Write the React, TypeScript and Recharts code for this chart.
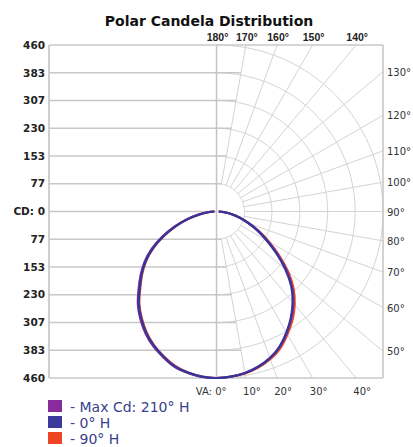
import React from "react";
import { ScatterChart, Scatter, XAxis, YAxis } from "recharts";

// Vertical angles (0° = nadir, straight down)
const verticalAngles = [0, 5, 10, 15, 20, 25, 30, 35, 40, 45, 50, 55, 60, 65, 70, 75, 80, 85, 90];

// Candela values per vertical angle, right half-plane and opposite (left) half-plane
const maxCd210Right = [460, 458, 453, 444, 431, 413, 388, 360, 330, 295, 252, 206, 164, 128, 95, 67, 43, 21, 6];
const maxCd210Left = [460, 459, 453, 445, 429, 412, 391, 366, 338, 305, 274, 243, 207, 166, 125, 86, 52, 24, 6];
const h0Right = [460, 458, 453, 444, 431, 412, 386, 358, 327, 292, 248, 202, 160, 125, 93, 65, 42, 20, 6];
const h0Left = [460, 458, 452, 443, 427, 409, 388, 362, 334, 300, 270, 239, 203, 162, 122, 84, 50, 23, 6];
const h90Right = [460, 458, 454, 446, 434, 417, 392, 366, 336, 301, 258, 211, 168, 130, 96, 67, 43, 21, 6];
const h90Left = [460, 458, 452, 442, 426, 408, 386, 360, 332, 298, 268, 237, 201, 160, 120, 83, 49, 22, 6];

// Axis / grid values
const cdTicks = [0, 77, 153, 230, 307, 383, 460];
const ringCd = [77, 153, 230, 307, 383, 460];
const rayAngles = [0, 10, 20, 30, 40, 50, 60, 70, 80, 90, 100, 110, 120, 130, 140, 150, 160, 170, 180];

const legendLabels = ["- Max Cd: 210° H", "- 0° H", "- 90° H"];
const seriesColors = ["#7b2d9b", "#35359a", "#e8472a"];
const swatchColors = ["#8a2b9c", "#3a3a9c", "#ee4422"];

const CD_LIMIT = 460;
const X_MIN = -463;
const rad = (d: number) => (d * Math.PI) / 180;
const clampY = (v: number) => Math.max(-CD_LIMIT, Math.min(CD_LIMIT, v));
const clampX = (v: number) => Math.max(X_MIN, Math.min(CD_LIMIT, v));

function buildCurve(right: number[], left: number[]) {
  const pts: { x: number; y: number }[] = [];
  for (let i = verticalAngles.length - 1; i >= 0; i--) {
    const a = rad(verticalAngles[i]);
    const r = left[i];
    pts.push({ x: -r * Math.sin(a), y: -r * Math.cos(a) });
  }
  for (let i = 1; i < verticalAngles.length; i++) {
    const a = rad(verticalAngles[i]);
    const r = right[i];
    pts.push({ x: r * Math.sin(a), y: -r * Math.cos(a) });
  }
  return pts;
}

const curves = [
  { key: "h90", data: buildCurve(h90Right, h90Left), color: seriesColors[2] },
  { key: "max", data: buildCurve(maxCd210Right, maxCd210Left), color: seriesColors[0] },
  { key: "h0", data: buildCurve(h0Right, h0Left), color: seriesColors[1] },
];

// Horizontal grid lines on the left (rectangular part)
const tan10 = Math.tan(rad(10));
const hLines: { x: number; y: number }[][] = [];
cdTicks.forEach((t) => {
  const signs = t === 0 ? [1] : [1, -1];
  signs.forEach((s) => {
    const xEnd = t === CD_LIMIT ? CD_LIMIT : t * tan10;
    hLines.push([
      { x: X_MIN, y: s * t },
      { x: xEnd, y: s * t },
    ]);
  });
});

const frameLines = [
  [
    { x: 0, y: -CD_LIMIT },
    { x: 0, y: CD_LIMIT },
  ],
  [
    { x: CD_LIMIT, y: -CD_LIMIT },
    { x: CD_LIMIT, y: CD_LIMIT },
  ],
];

function rayEnd(deg: number) {
  const a = rad(deg);
  const sx = Math.sin(a);
  const cy = Math.cos(a);
  const tx = sx > 1e-9 ? CD_LIMIT / sx : Infinity;
  const ty = Math.abs(cy) > 1e-9 ? CD_LIMIT / Math.abs(cy) : Infinity;
  const t = Math.min(tx, ty);
  return { x: clampX(t * sx), y: clampY(-t * cy) };
}

const rays = rayAngles
  .filter((d) => d > 0 && d < 180)
  .map((d) => {
    const a = rad(d);
    return [{ x: ringCd[0] * Math.sin(a), y: -ringCd[0] * Math.cos(a) }, rayEnd(d)];
  });

const rings = ringCd.map((r) => {
  const pts: { x: number; y: number }[] = [];
  for (let d = 0; d <= 180; d += 2) {
    const a = rad(d);
    pts.push({ x: clampX(r * Math.sin(a)), y: clampY(-r * Math.cos(a)) });
  }
  return pts;
});

const angleLabels = rayAngles.map((d) => {
  const e = rayEnd(d);
  let side = "right";
  if (Math.abs(e.y - CD_LIMIT) < 1e-6) side = "top";
  else if (Math.abs(e.y + CD_LIMIT) < 1e-6) side = "bottom";
  if (d === 90) side = "right";
  return { x: e.x, y: e.y, label: `${d}°`, side, deg: d };
});

const NoShape = () => null;

const AngleLabel = (props: any) => {
  const { cx, cy, payload } = props;
  if (cx == null || cy == null || !payload) return null;
  const base = { fontFamily: "DejaVu Sans", fontSize: 10, fill: "#333" } as any;
  if (payload.side === "top") {
    return (
      <text x={cx + 1} y={cy - 4} textAnchor="middle" style={{ ...base, fontFamily: "Liberation Sans", fontWeight: "bold", fontSize: 10.5, fill: "#222" }}>
        {payload.label}
      </text>
    );
  }
  if (payload.side === "bottom") {
    if (payload.deg === 0) {
      return (
        <text x={cx + 10} y={cy + 17} textAnchor="end" style={base}>
          {"VA: " + payload.label}
        </text>
      );
    }
    return (
      <text x={cx + 6} y={cy + 17} textAnchor="middle" style={base}>
        {payload.label}
      </text>
    );
  }
  return (
    <text x={cx + 4} y={cy + 4} textAnchor="start" style={base}>
      {payload.label}
    </text>
  );
};

const yTicks = [...cdTicks.slice(1).reverse().map((t) => -t), ...cdTicks];

export default function App() {
  return (
    <div style={{ position: "absolute", left: 0, top: 0, width: 413, height: 447, background: "#fff", overflow: "hidden" }}>
      <div
        style={{
          position: "absolute",
          left: 209,
          top: 14,
          transform: "translateX(-50%)",
          whiteSpace: "nowrap",
          fontFamily: "DejaVu Sans",
          fontWeight: "bold",
          fontSize: 14,
          lineHeight: "14px",
          color: "#111",
        }}
      >
        Polar Candela Distribution
      </div>
      <ScatterChart width={413} height={447} margin={{ top: 45, right: 30, bottom: 69, left: 0 }}>
        <XAxis type="number" dataKey="x" domain={[X_MIN, CD_LIMIT]} hide />
        <YAxis
          type="number"
          dataKey="y"
          domain={[-CD_LIMIT, CD_LIMIT]}
          ticks={yTicks}
          interval={0}
          width={49}
          tickLine={false}
          tickSize={2}
          tickMargin={2}
          axisLine={{ stroke: "#bfbfbf", strokeWidth: 1.5 }}
          tickFormatter={(v: number) => (v === 0 ? "CD: 0" : String(Math.abs(v)))}
          tick={{ fontFamily: "DejaVu Sans", fontSize: 10.5, fontWeight: "bold", fill: "#222" }}
        />
        {rings.map((pts, i) => (
          <Scatter key={"ring" + i} data={pts} fill="#d4d4d4" line={{ stroke: "#d4d4d4", strokeWidth: 1 }} lineType="joint" shape={NoShape} isAnimationActive={false} legendType="none" />
        ))}
        {rays.map((pts, i) => (
          <Scatter key={"ray" + i} data={pts} fill="#d4d4d4" line={{ stroke: "#d4d4d4", strokeWidth: 1 }} lineType="joint" shape={NoShape} isAnimationActive={false} legendType="none" />
        ))}
        {hLines.map((pts, i) => (
          <Scatter key={"h" + i} data={pts} fill="#c8c8c8" line={{ stroke: "#c8c8c8", strokeWidth: 1.5 }} lineType="joint" shape={NoShape} isAnimationActive={false} legendType="none" />
        ))}
        {frameLines.map((pts, i) => (
          <Scatter key={"f" + i} data={pts} fill="#c4c4c4" line={{ stroke: "#c4c4c4", strokeWidth: 1.5 }} lineType="joint" shape={NoShape} isAnimationActive={false} legendType="none" />
        ))}
        {curves.map((c) => (
          <Scatter
            key={c.key}
            data={c.data}
            fill={c.color}
            line={{ stroke: c.color, strokeWidth: 2.2 }}
            lineType="joint"
            lineJointType="natural"
            shape={NoShape}
            isAnimationActive={false}
            legendType="none"
          />
        ))}
        <Scatter data={angleLabels} fill="#333" shape={AngleLabel} isAnimationActive={false} legendType="none" />
      </ScatterChart>
      {legendLabels.map((label, i) => (
        <div
          key={label}
          style={{
            position: "absolute",
            left: 48,
            top: 399 + i * 16,
            height: 16,
            lineHeight: "16px",
            whiteSpace: "nowrap",
          }}
        >
          <div style={{ position: "absolute", left: 0, top: 1, width: 14, height: 12, background: swatchColors[i] }} />
          <span
            style={{
              position: "absolute",
              left: 22,
              top: 0,
              fontFamily: "DejaVu Sans",
              fontSize: 14,
              color: "#3a3f8f",
            }}
          >
            {label}
          </span>
        </div>
      ))}
    </div>
  );
}
